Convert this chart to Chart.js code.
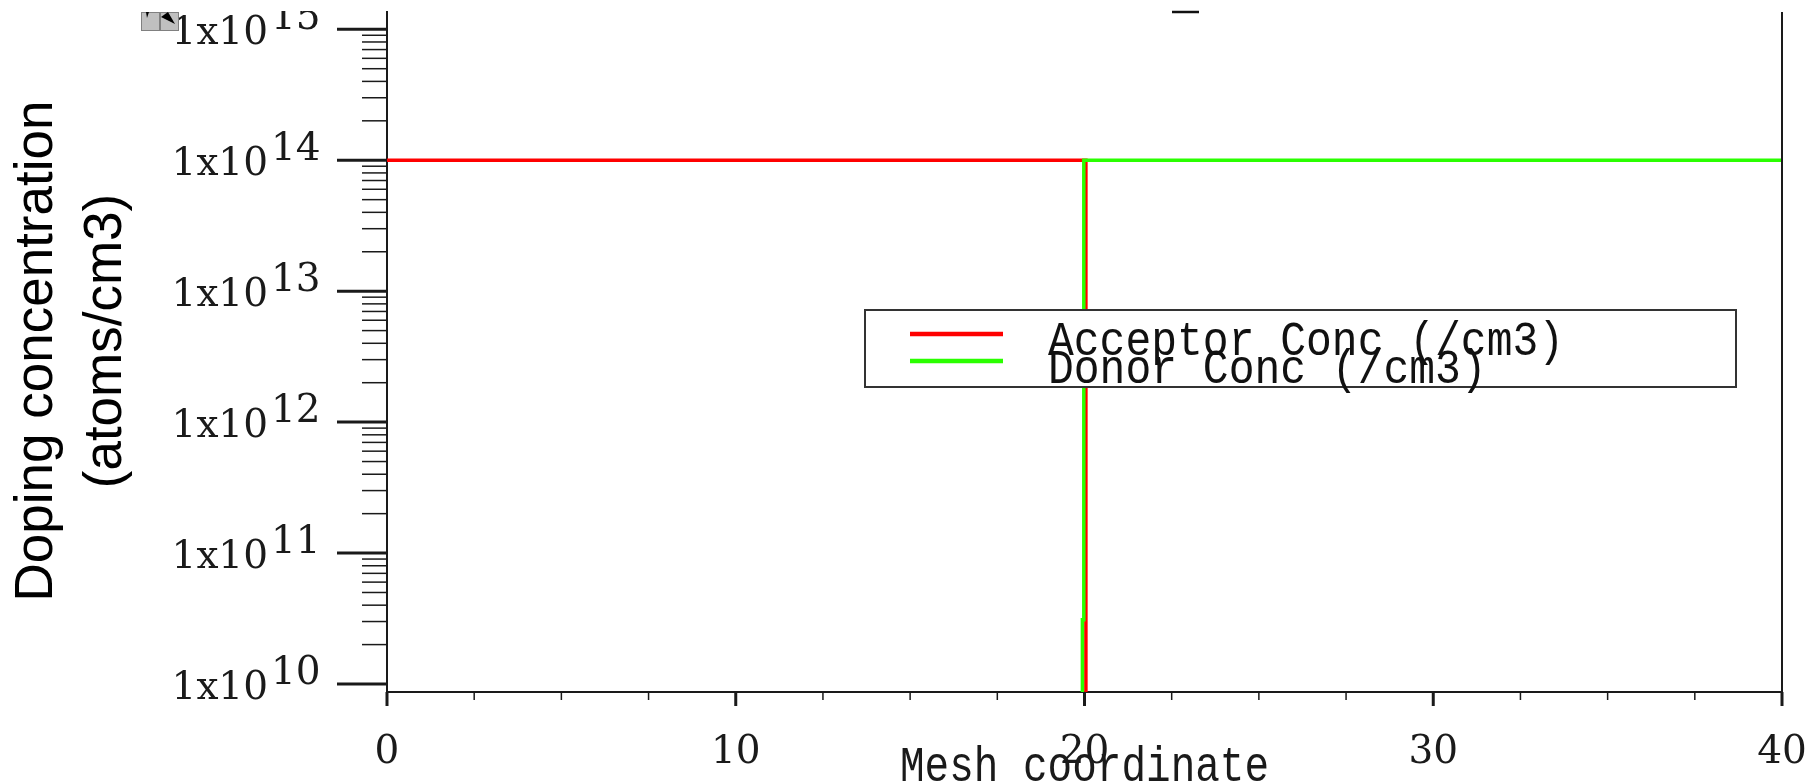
<!DOCTYPE html>
<html>
<head>
<meta charset="utf-8">
<script src="https://cdn.jsdelivr.net/npm/chart.js@4/dist/chart.umd.min.js"></script>
<style>
  html, body { margin: 0; padding: 0; background: #ffffff; }
  #c { display: block; }
</style>
</head>
<body>
<canvas id="c" width="1811" height="784"></canvas>
<script>
// ---- data ----
const meshCoordAcceptor = [0, 20.04, 20.04];
const acceptorConc      = [1e14, 1e14, 1e5];
const meshCoordDonor    = [0, 19.94, 19.94, 19.98, 19.98, 40];
const donorConc         = [1e5, 1e5, 3.1e10, 3.1e10, 1e14, 1e14];
const seriesLabels      = ['Acceptor Conc (/cm3)', 'Donor Conc (/cm3)'];
const xTickValues       = [0, 10, 20, 30, 40];
const xMinorStep        = 2.5;
const yTickExponents    = [10, 11, 12, 13, 14, 15];
const xTitle            = 'Mesh coordinate';
const yTitle            = ['Doping concentration', '(atoms/cm3)'];

const toPoints = (xs, ys) => xs.map((x, i) => ({ x: x, y: ys[i] }));

const decor = {
  id: 'decor',
  afterDraw(chart) {
    const ctx = chart.ctx;
    const xs = chart.scales.x, ys = chart.scales.y;
    const area = chart.chartArea;
    const axisColor = '#1a1a1a';
    ctx.save();
    // right frame
    ctx.strokeStyle = axisColor;
    ctx.lineWidth = 2;
    ctx.beginPath();
    const xr = xs.getPixelForValue(xs.max);
    ctx.moveTo(xr, area.top); ctx.lineTo(xr, area.bottom + 1);
    ctx.stroke();

    // y ticks
    const yMinE = yTickExponents[0], yMaxE = yTickExponents[yTickExponents.length - 1];
    for (let e = yMinE; e < yMaxE; e++) {
      for (let m = 2; m <= 9; m++) {
        const py = ys.getPixelForValue(m * Math.pow(10, e));
        ctx.lineWidth = 1.5;
        ctx.beginPath(); ctx.moveTo(area.left - 25, py); ctx.lineTo(area.left, py); ctx.stroke();
      }
    }
    ctx.fillStyle = '#1a1a1a';
    ctx.font = '39px "DejaVu Serif"';
    yTickExponents.forEach(e => {
      const py = ys.getPixelForValue(Math.pow(10, e));
      ctx.lineWidth = 3;
      ctx.beginPath(); ctx.moveTo(area.left - 50, py); ctx.lineTo(area.left, py); ctx.stroke();
      ctx.textAlign = 'right'; ctx.textBaseline = 'alphabetic';
      ctx.fillText('1x10', 268, py + 15);
      ctx.textAlign = 'left';
      ctx.fillText(String(e), 271, py);
    });

    // x ticks
    for (let v = xs.min; v <= xs.max + 1e-9; v += xMinorStep) {
      const px = xs.getPixelForValue(v);
      const major = xTickValues.includes(v);
      ctx.lineWidth = major ? 3 : 1.5;
      ctx.beginPath(); ctx.moveTo(px, area.bottom); ctx.lineTo(px, area.bottom + (major ? 14 : 8)); ctx.stroke();
    }
    ctx.textAlign = 'center';
    xTickValues.forEach(v => {
      ctx.fillText(String(v), xs.getPixelForValue(v), 763);
    });

    // x title
    ctx.save();
    ctx.font = '41px "Liberation Mono"';
    ctx.textAlign = 'left';
    ctx.translate(900, 781);
    ctx.scale(1, 1.2);
    ctx.fillText(xTitle, 0, 0);
    ctx.restore();

    // y title
    ctx.save();
    ctx.font = '53px "Liberation Sans", Arial, sans-serif';
    ctx.fillStyle = '#000';
    ctx.textAlign = 'center';
    ctx.translate(52, 351); ctx.rotate(-Math.PI / 2);
    ctx.fillText(yTitle[0], 0, 0);
    ctx.restore();
    ctx.save();
    ctx.font = '53px "Liberation Sans", Arial, sans-serif';
    ctx.fillStyle = '#000';
    ctx.textAlign = 'center';
    ctx.translate(121, 341); ctx.rotate(-Math.PI / 2);
    ctx.fillText(yTitle[1], 0, 0);
    ctx.restore();

    // legend
    ctx.fillStyle = '#ffffff';
    ctx.fillRect(865, 310, 871, 77);
    ctx.strokeStyle = '#333';
    ctx.lineWidth = 2;
    ctx.strokeRect(865, 310, 871, 77);
    const legendY = [334, 361];
    const textY = [355, 383];
    chart.data.datasets.forEach((ds, i) => {
      ctx.strokeStyle = ds.borderColor;
      ctx.lineWidth = 4.5;
      ctx.beginPath(); ctx.moveTo(910, legendY[i]); ctx.lineTo(1003, legendY[i]); ctx.stroke();
      ctx.save();
      ctx.fillStyle = '#111';
      ctx.font = '43px "Liberation Mono"';
      ctx.textAlign = 'left';
      ctx.translate(1048, textY[i]);
      ctx.scale(1, 1.14);
      ctx.fillText(ds.label, 0, 0);
      ctx.restore();
    });

    // top clipped strip + artifacts
    ctx.fillStyle = '#ffffff';
    ctx.fillRect(0, 0, chart.width, 11);
    ctx.strokeStyle = '#111';
    ctx.lineWidth = 2.5;
    ctx.beginPath(); ctx.moveTo(1172, 12); ctx.lineTo(1199, 12); ctx.stroke();
    // small toolbar icon
    ctx.fillStyle = '#c0c0c0';
    ctx.fillRect(141, 12, 38, 19);
    ctx.strokeStyle = '#808080';
    ctx.lineWidth = 1;
    ctx.strokeRect(141.5, 12.5, 18, 18);
    ctx.strokeRect(160.5, 12.5, 18, 18);
    ctx.fillStyle = '#000';
    ctx.beginPath(); ctx.moveTo(161, 17); ctx.lineTo(168, 12); ctx.lineTo(175, 24); ctx.closePath(); ctx.fill();
    ctx.beginPath(); ctx.moveTo(146, 12); ctx.lineTo(149, 12); ctx.lineTo(147, 18); ctx.closePath(); ctx.fill();
    ctx.restore();
  }
};

new Chart(document.getElementById('c'), {
  type: 'line',
  data: {
    datasets: [
      {
        label: seriesLabels[0],
        data: toPoints(meshCoordAcceptor, acceptorConc),
        borderColor: '#ff0000',
        borderWidth: 3.5,
        pointRadius: 0,
        tension: 0,
        fill: false,
        order: 1
      },
      {
        label: seriesLabels[1],
        data: toPoints(meshCoordDonor, donorConc),
        borderColor: '#2aff00',
        borderWidth: 3.5,
        pointRadius: 0,
        tension: 0,
        fill: false,
        order: 0
      }
    ]
  },
  options: {
    responsive: false,
    devicePixelRatio: 1,
    animation: false,
    layout: { padding: { top: 12, right: 29, left: 0, bottom: 0 } },
    plugins: { legend: { display: false }, tooltip: { enabled: false } },
    scales: {
      x: {
        type: 'linear',
        min: 0, max: 40,
        ticks: { display: false },
        grid: { display: false },
        border: { display: true, color: '#1a1a1a', width: 2 },
        afterFit(s) { s.height = 92; }
      },
      y: {
        type: 'logarithmic',
        min: Math.pow(10, 9.939),
        max: Math.pow(10, 15.132),
        ticks: { display: false },
        grid: { display: false },
        border: { display: true, color: '#1a1a1a', width: 2 },
        afterFit(s) { s.width = 387; }
      }
    }
  },
  plugins: [decor]
});
</script>
</body>
</html>
